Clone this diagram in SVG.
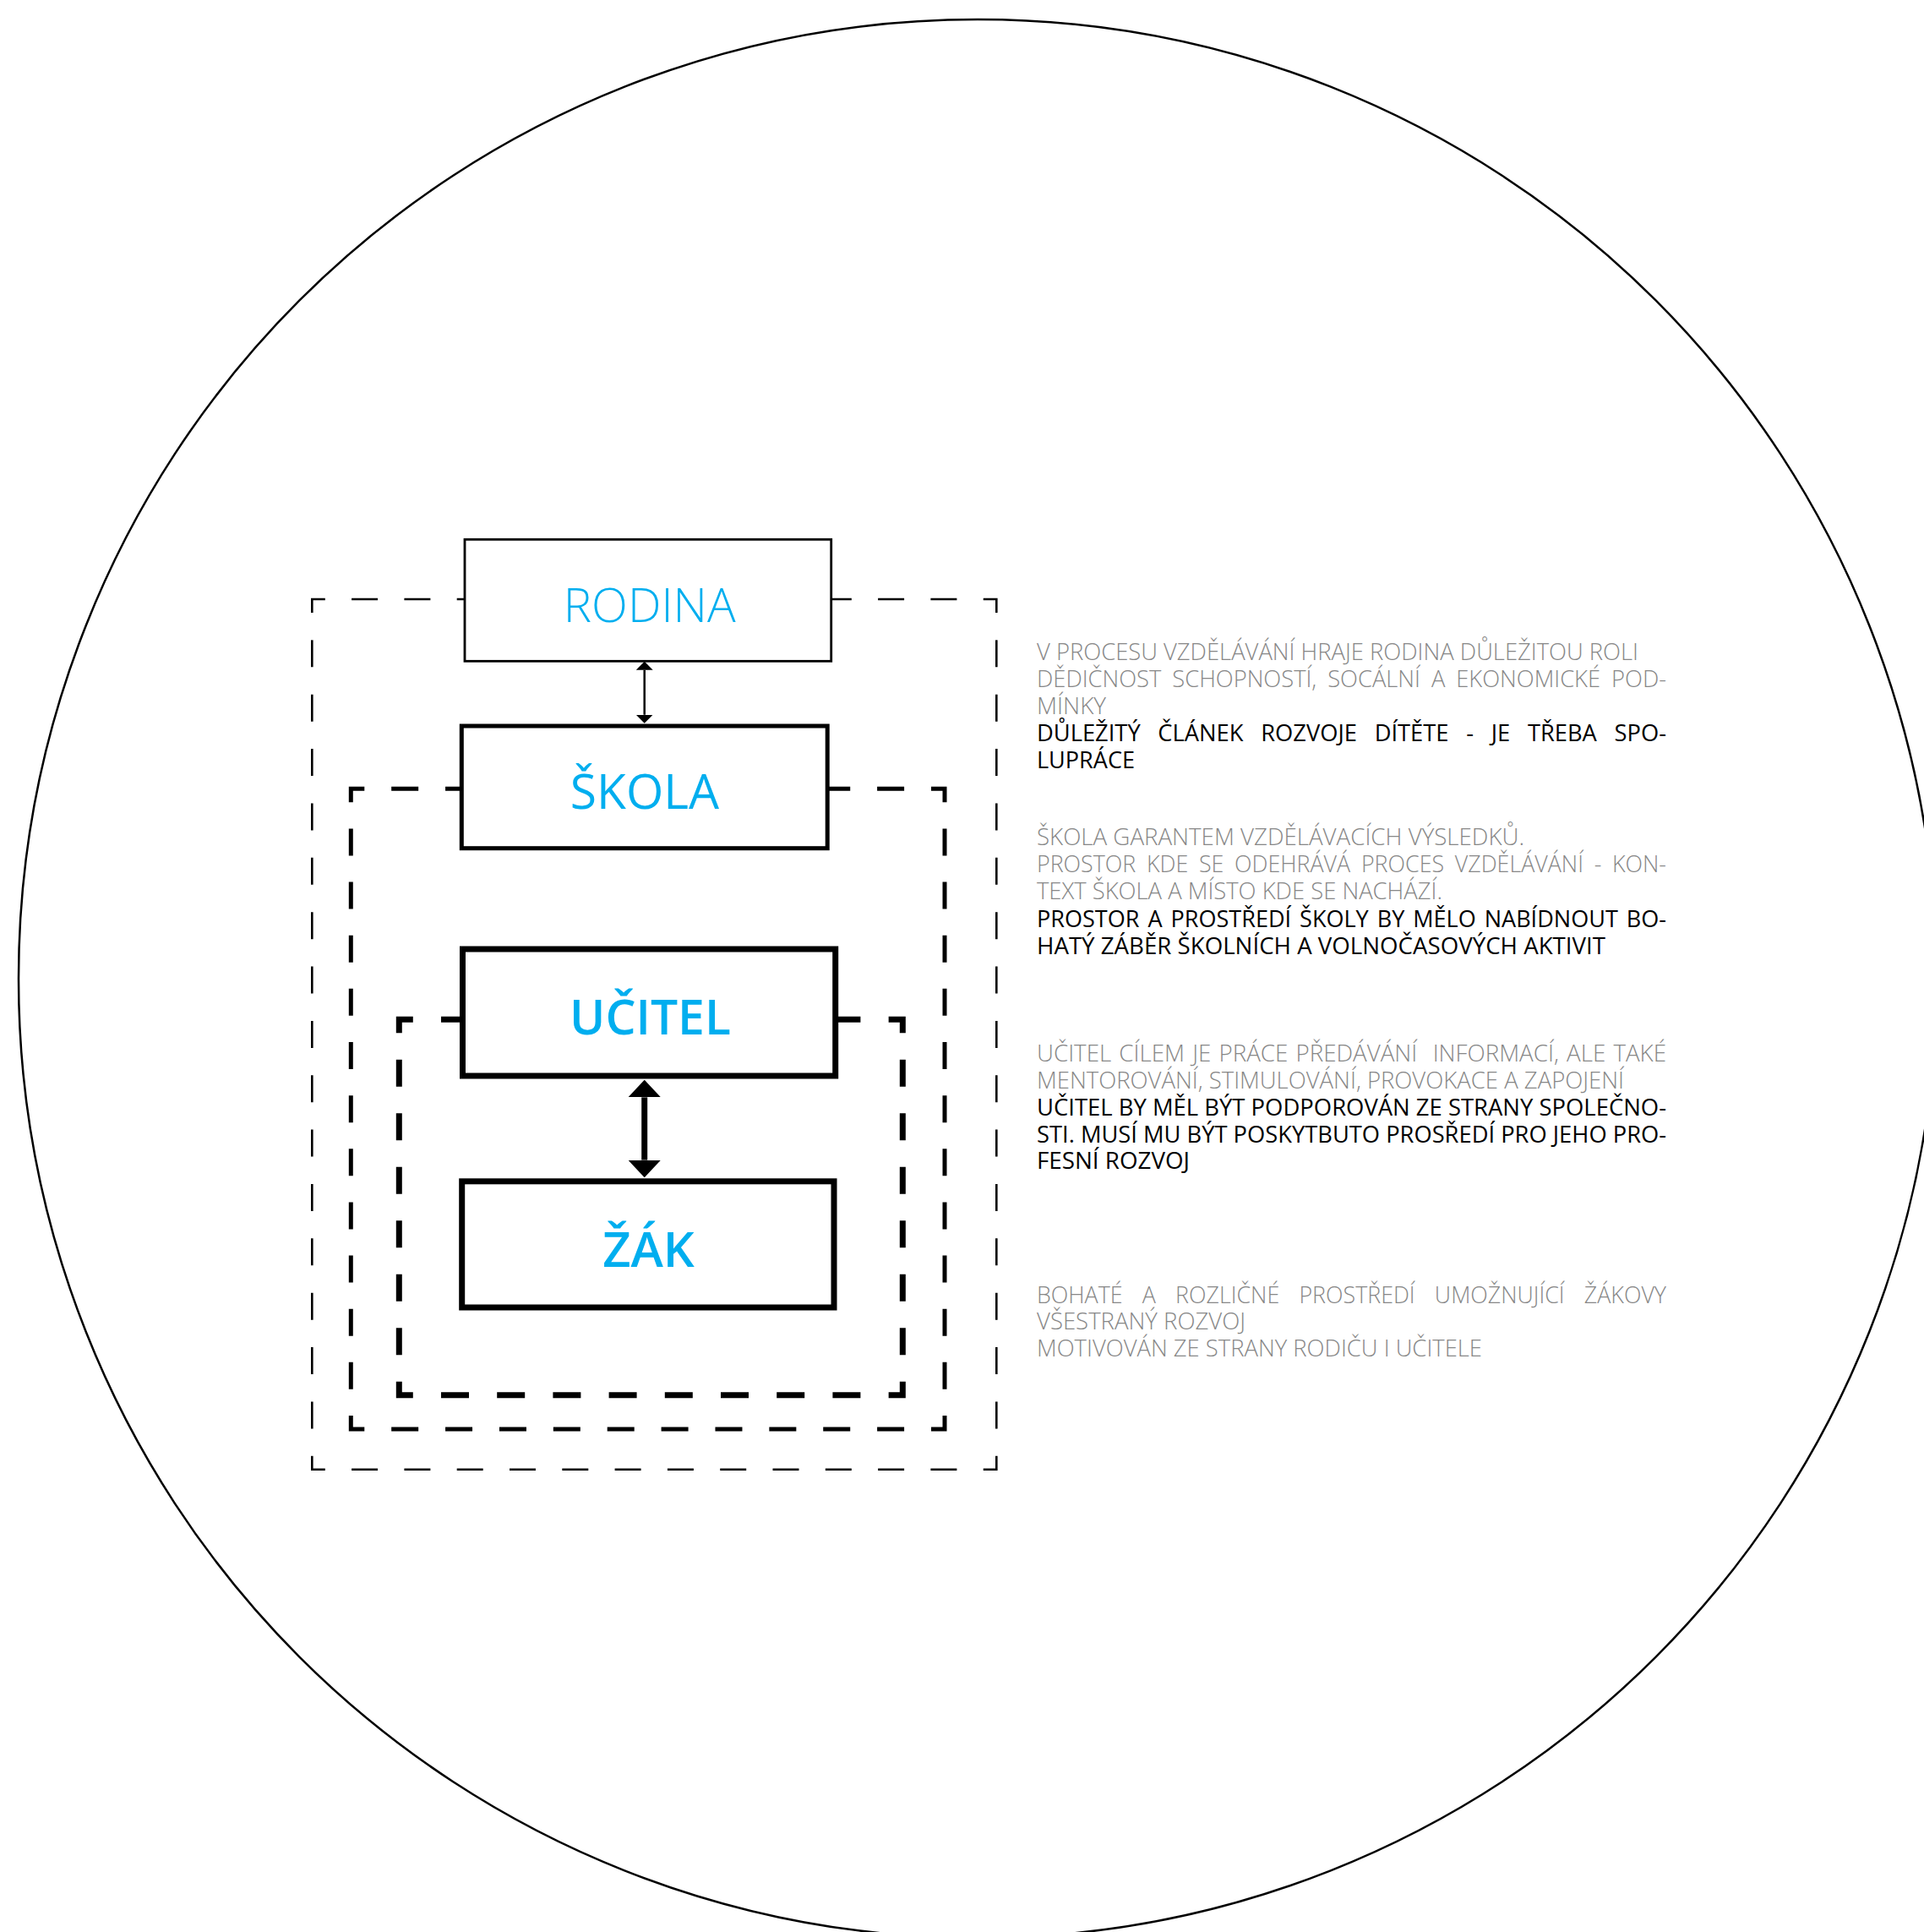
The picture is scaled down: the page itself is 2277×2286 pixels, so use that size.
<svg xmlns="http://www.w3.org/2000/svg" width="2277" height="2286" viewBox="0 0 2277 2286">
<style>
.bg{fill:#ffffff}
.circle{fill:none;stroke:#000;stroke-width:2.5}
.f{fill:none;stroke:#000;stroke-linecap:butt;stroke-linejoin:miter}
.f1{stroke-width:2.6}
.f2{stroke-width:5}
.f3{stroke-width:7}
.f1h{stroke-dasharray:31 31.3;stroke-dashoffset:31}
.f1v{stroke-dasharray:32 32.36;stroke-dashoffset:32}
.f2h{stroke-dasharray:32 31.88;stroke-dashoffset:32}
.f2v{stroke-dasharray:32 31.14;stroke-dashoffset:32}
.f3h{stroke-dasharray:33 33.2;stroke-dashoffset:33}
.f3v{stroke-dasharray:32 31.49;stroke-dashoffset:32}
.box{fill:#fff;stroke:#000}
.lbl{fill:#00aeef;font-family:"Open Sans","Liberation Sans",sans-serif;text-anchor:middle}
.conn{stroke:#000;fill:none;stroke-linecap:butt}
.t{font-family:"Open Sans","Liberation Sans",sans-serif;font-size:28px}
.g{fill:#878787;font-weight:300}
.k{fill:#000;font-weight:400}
</style>
<defs>
<marker id="headS" viewBox="0 0 10 20" markerWidth="10" markerHeight="20" refX="0" refY="10" markerUnits="userSpaceOnUse" orient="auto-start-reverse"><path d="M0,0 L10,10 L0,20 Z" fill="#000"/></marker>
<marker id="headL" viewBox="0 0 20.7 38.7" markerWidth="20.7" markerHeight="38.7" refX="0" refY="19.35" markerUnits="userSpaceOnUse" orient="auto-start-reverse"><path d="M0,0 L20.7,19.35 L0,38.7 Z" fill="#000"/></marker>
</defs>
<rect class="bg" x="0" y="0" width="2277" height="2286"/>
<circle class="circle" cx="1157" cy="1158" r="1135"/>

<g id="frames">
 <g id="frame-outer" class="f f1">
  <path d="M369.3,725 V709 H384.8"/>
  <path d="M1163.8,709 H1179.3 V725"/>
  <path d="M1179.3,1722.7 V1738.7 H1163.8"/>
  <path d="M384.8,1738.7 H369.3 V1722.7"/>
  <path class="f1h" d="M384.8,709 H1163.8"/>
  <path class="f1h" d="M384.8,1738.7 H1163.8"/>
  <path class="f1v" d="M369.3,725 V1722.7"/>
  <path class="f1v" d="M1179.3,725 V1722.7"/>
 </g>
 <g id="frame-middle" class="f f2">
  <path d="M415.3,949.3 V933.3 H431.3"/>
  <path d="M1102,933.3 H1118 V949.3"/>
  <path d="M1118,1675 V1691 H1102"/>
  <path d="M431.3,1691 H415.3 V1675"/>
  <path class="f2h" d="M431.3,933.3 H1102"/>
  <path class="f2h" d="M431.3,1691 H1102"/>
  <path class="f2v" d="M415.3,949.3 V1675"/>
  <path class="f2v" d="M1118,949.3 V1675"/>
 </g>
 <g id="frame-inner" class="f f3">
  <path d="M472.3,1222.3 V1206.3 H488.8"/>
  <path d="M1051.8,1206.3 H1068.3 V1222.3"/>
  <path d="M1068.3,1634.7 V1650.7 H1051.8"/>
  <path d="M488.8,1650.7 H472.3 V1634.7"/>
  <path class="f3h" d="M488.8,1206.3 H1051.8"/>
  <path class="f3h" d="M488.8,1650.7 H1051.8"/>
  <path class="f3v" d="M472.3,1222.3 V1634.7"/>
  <path class="f3v" d="M1068.3,1222.3 V1634.7"/>
 </g>
</g>

<g id="node-rodina">
 <rect class="box" x="550" y="638.3" width="433.7" height="144" stroke-width="2.8"/>
 <text class="lbl" x="768.7" y="736" font-size="56" font-weight="300">RODINA</text>
</g>
<g id="node-skola">
 <rect class="box" x="546.3" y="859" width="432.9" height="144.7" stroke-width="5"/>
 <text class="lbl" x="763" y="957.3" font-size="57" font-weight="400">ŠKOLA</text>
</g>
<g id="node-ucitel">
 <rect class="box" x="547.5" y="1123" width="441.2" height="150" stroke-width="7"/>
 <text class="lbl" x="769.5" y="1224" font-size="57" font-weight="600">UČITEL</text>
</g>
<g id="node-zak">
 <rect class="box" x="546.7" y="1397.8" width="440.3" height="149.2" stroke-width="7"/>
 <text class="lbl" x="767.5" y="1498.7" font-size="58" font-weight="600">ŽÁK</text>
</g>

<g id="connectors">
 <line class="conn" x1="762.7" y1="792.7" x2="762.7" y2="845.7" stroke-width="2.5" marker-start="url(#headS)" marker-end="url(#headS)"/>
 <line class="conn" x1="762.7" y1="1298.4" x2="762.7" y2="1372.6" stroke-width="7" marker-start="url(#headL)" marker-end="url(#headL)"/>
</g>

<g id="notes">
 <g id="note-rodina">
  <text class="t g" x="1227" y="781" textLength="712" lengthAdjust="spacingAndGlyphs">V PROCESU VZDĚLÁVÁNÍ HRAJE RODINA DŮLEŽITOU ROLI</text>
  <text class="t g" x="1227" y="813" textLength="745" lengthAdjust="spacingAndGlyphs" word-spacing="6">DĚDIČNOST SCHOPNOSTÍ, SOCÁLNÍ A EKONOMICKÉ POD-</text>
  <text class="t g" x="1227" y="845" textLength="82" lengthAdjust="spacingAndGlyphs">MÍNKY</text>
  <text class="t k" x="1227" y="877" textLength="745" lengthAdjust="spacingAndGlyphs" word-spacing="14">DŮLEŽITÝ ČLÁNEK ROZVOJE DÍTĚTE - JE TŘEBA SPO-</text>
  <text class="t k" x="1227" y="909" textLength="116" lengthAdjust="spacingAndGlyphs">LUPRÁCE</text>
 </g>
 <g id="note-skola">
  <text class="t g" x="1227" y="1000" textLength="577" lengthAdjust="spacingAndGlyphs">ŠKOLA GARANTEM VZDĚLÁVACÍCH VÝSLEDKŮ.</text>
  <text class="t g" x="1227" y="1032" textLength="745" lengthAdjust="spacingAndGlyphs" word-spacing="6">PROSTOR KDE SE ODEHRÁVÁ PROCES VZDĚLÁVÁNÍ - KON-</text>
  <text class="t g" x="1227" y="1064" textLength="480" lengthAdjust="spacingAndGlyphs">TEXT ŠKOLA A MÍSTO KDE SE NACHÁZÍ.</text>
  <text class="t k" x="1227" y="1097" textLength="745" lengthAdjust="spacingAndGlyphs" word-spacing="3">PROSTOR A PROSTŘEDÍ ŠKOLY BY MĚLO NABÍDNOUT BO-</text>
  <text class="t k" x="1227" y="1129" textLength="673" lengthAdjust="spacingAndGlyphs">HATÝ ZÁBĚR ŠKOLNÍCH A VOLNOČASOVÝCH AKTIVIT</text>
 </g>
 <g id="note-ucitel">
  <text class="t g" x="1227" y="1256" textLength="745" lengthAdjust="spacingAndGlyphs" word-spacing="2" xml:space="preserve">UČITEL CÍLEM JE PRÁCE PŘEDÁVÁNÍ  INFORMACÍ, ALE TAKÉ</text>
  <text class="t g" x="1227" y="1288" textLength="695" lengthAdjust="spacingAndGlyphs">MENTOROVÁNÍ, STIMULOVÁNÍ, PROVOKACE A ZAPOJENÍ</text>
  <text class="t k" x="1227" y="1320" textLength="745" lengthAdjust="spacingAndGlyphs">UČITEL BY MĚL BÝT PODPOROVÁN ZE STRANY SPOLEČNO-</text>
  <text class="t k" x="1227" y="1352" textLength="745" lengthAdjust="spacingAndGlyphs">STI. MUSÍ MU BÝT POSKYTBUTO PROSŘEDÍ PRO JEHO PRO-</text>
  <text class="t k" x="1227" y="1383" textLength="181" lengthAdjust="spacingAndGlyphs">FESNÍ ROZVOJ</text>
 </g>
 <g id="note-zak">
  <text class="t g" x="1227" y="1542" textLength="745" lengthAdjust="spacingAndGlyphs" word-spacing="17">BOHATÉ A ROZLIČNÉ PROSTŘEDÍ UMOŽNUJÍCÍ ŽÁKOVY</text>
  <text class="t g" x="1227" y="1573" textLength="247" lengthAdjust="spacingAndGlyphs">VŠESTRANÝ ROZVOJ</text>
  <text class="t g" x="1227" y="1605" textLength="527" lengthAdjust="spacingAndGlyphs">MOTIVOVÁN ZE STRANY RODIČU I UČITELE</text>
 </g>
</g>
</svg>
